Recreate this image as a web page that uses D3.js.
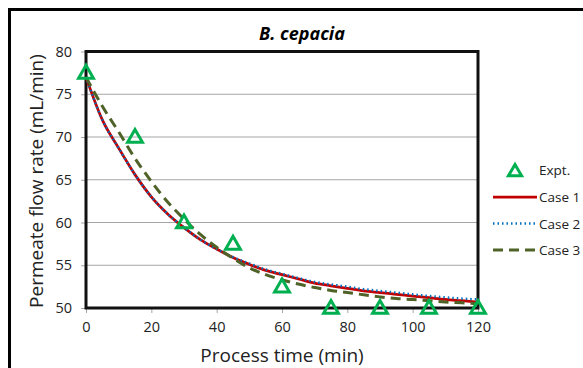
<!DOCTYPE html>
<html><head><meta charset="utf-8">
<script src="https://cdn.jsdelivr.net/npm/d3@7"></script>
<style>body{margin:0;background:#fff;} svg{display:block;}</style>
</head><body>
<svg id="c" width="583" height="368"></svg>
<script>
const title = "B. cepacia";
const xTicks = [0, 20, 40, 60, 80, 100, 120];
const yTicks = [50, 55, 60, 65, 70, 75, 80];
const exptTime = [0, 15, 30, 45, 60, 75, 90, 105, 120];
const exptFlow = [77.5, 70, 60, 57.5, 52.5, 50, 50, 50, 50];
const modelTime = [0, 5, 10, 15, 20, 25, 30, 35, 40, 45, 50, 55, 60, 65, 70, 75, 80, 85, 90, 95, 100, 105, 110, 115, 120];
const case1 = [77.0, 72.0, 68.7, 65.6, 63.0, 61.0, 59.4, 58.0, 56.9, 55.9, 55.1, 54.4, 53.9, 53.4, 52.9, 52.6, 52.3, 52.0, 51.8, 51.6, 51.4, 51.2, 51.0, 50.85, 50.7];
const case2 = [77.0, 72.0, 68.7, 65.6, 63.0, 61.0, 59.4, 58.0, 56.9, 55.95, 55.2, 54.5, 54.0, 53.5, 53.05, 52.75, 52.5, 52.2, 52.0, 51.8, 51.6, 51.4, 51.25, 51.1, 51.0];
const case3 = [77.0, 73.6, 70.6, 67.5, 64.8, 62.4, 60.4, 58.6, 57.1, 55.8, 54.7, 53.9, 53.3, 52.8, 52.4, 52.05, 51.8, 51.55, 51.3, 51.1, 51.0, 50.85, 50.7, 50.6, 50.5];
const seriesNames = ["Case 1", "Case 2", "Case 3"];

const svg = d3.select("#c");
const font = "'Open Sans', sans-serif";
const L = 86, R = 478, T = 51.5, B = 308;
const x = d3.scaleLinear().domain([0, 120]).range([L, R]);
const y = d3.scaleLinear().domain([50, 80]).range([B, T]);

// outer border
svg.append("path").attr("d", "M9.5,368 L9.5,9.5 L583,9.5").attr("fill", "none").attr("stroke", "#000").attr("stroke-width", 3);

// title
svg.append("text").attr("x", 302).attr("y", 40).attr("text-anchor", "middle")
  .attr("font-family", font).attr("font-size", 18).attr("font-weight", "bold").attr("font-style", "italic")
  .text(title);

// gridlines
svg.append("g").selectAll("line").data(yTicks.slice(1, -1)).join("line")
  .attr("x1", L).attr("x2", R).attr("y1", d => y(d)).attr("y2", d => y(d))
  .attr("stroke", "#a6a6a6").attr("stroke-width", 1);

// axes
const yAxis = svg.append("g").attr("transform", `translate(${L},0)`)
  .call(d3.axisLeft(y).tickValues(yTicks).tickSize(5).tickPadding(9));
const xAxis = svg.append("g").attr("transform", `translate(0,${B})`)
  .call(d3.axisBottom(x).tickValues(xTicks).tickSize(5).tickPadding(9));
[yAxis, xAxis].forEach(a => {
  a.select(".domain").remove();
  a.selectAll(".tick line").attr("stroke", "#a6a6a6");
  a.selectAll("text").attr("font-family", font).attr("font-size", 14.5).attr("fill", "#222");
});

// frame
svg.append("rect").attr("x", L).attr("y", T).attr("width", R - L).attr("height", B - T)
  .attr("fill", "none").attr("stroke", "#111").attr("stroke-width", 3);

// lines
const line = vals => d3.line().x((d, i) => x(modelTime[i])).y(d => y(d)).curve(d3.curveMonotoneX)(vals);
svg.append("path").attr("d", line(case1)).attr("fill", "none").attr("stroke", "#c00000").attr("stroke-width", 2.75);
svg.append("path").attr("d", line(case2)).attr("fill", "none").attr("stroke", "#0070c0").attr("stroke-width", 2.5).attr("stroke-dasharray", "1.5,3");
svg.append("path").attr("d", line(case3)).attr("fill", "none").attr("stroke", "#4f6228").attr("stroke-width", 3).attr("stroke-dasharray", "10,6");

// markers
const tri = d3.symbol().type(d3.symbolTriangle).size(95);
svg.append("g").selectAll("path").data(exptTime).join("path")
  .attr("transform", (d, i) => `translate(${x(d)},${y(exptFlow[i]) + 1})`)
  .attr("d", tri()).attr("fill", "none").attr("stroke", "#00b050").attr("stroke-width", 3);

// axis titles
svg.append("text").attr("x", 282).attr("y", 362).attr("text-anchor", "middle")
  .attr("font-family", font).attr("font-size", 19).attr("fill", "#222").text("Process time (min)");
svg.append("text").attr("transform", "translate(43,181) rotate(-90)").attr("text-anchor", "middle")
  .attr("font-family", font).attr("font-size", 19).attr("fill", "#222").text("Permeate flow rate (mL/min)");

// legend
const lg = svg.append("g").attr("font-family", font).attr("font-size", 13.5).attr("fill", "#222");
lg.append("path").attr("transform", "translate(515,172)").attr("d", d3.symbol().type(d3.symbolTriangle).size(75)()).attr("fill", "none").attr("stroke", "#00b050").attr("stroke-width", 3);
lg.append("text").attr("x", 539).attr("y", 175).text("Expt.");
const legY = [197, 223.5, 250];
const styles = [["#c00000", 2.75, null], ["#0070c0", 2.5, "1.5,3"], ["#4f6228", 3, "10,6"]];
seriesNames.forEach((n, i) => {
  lg.append("line").attr("x1", 493).attr("x2", 537).attr("y1", legY[i]).attr("y2", legY[i])
    .attr("stroke", styles[i][0]).attr("stroke-width", styles[i][1]).attr("stroke-dasharray", styles[i][2]);
  lg.append("text").attr("x", 539).attr("y", legY[i] + 5).text(n);
});
</script>
</body></html>
